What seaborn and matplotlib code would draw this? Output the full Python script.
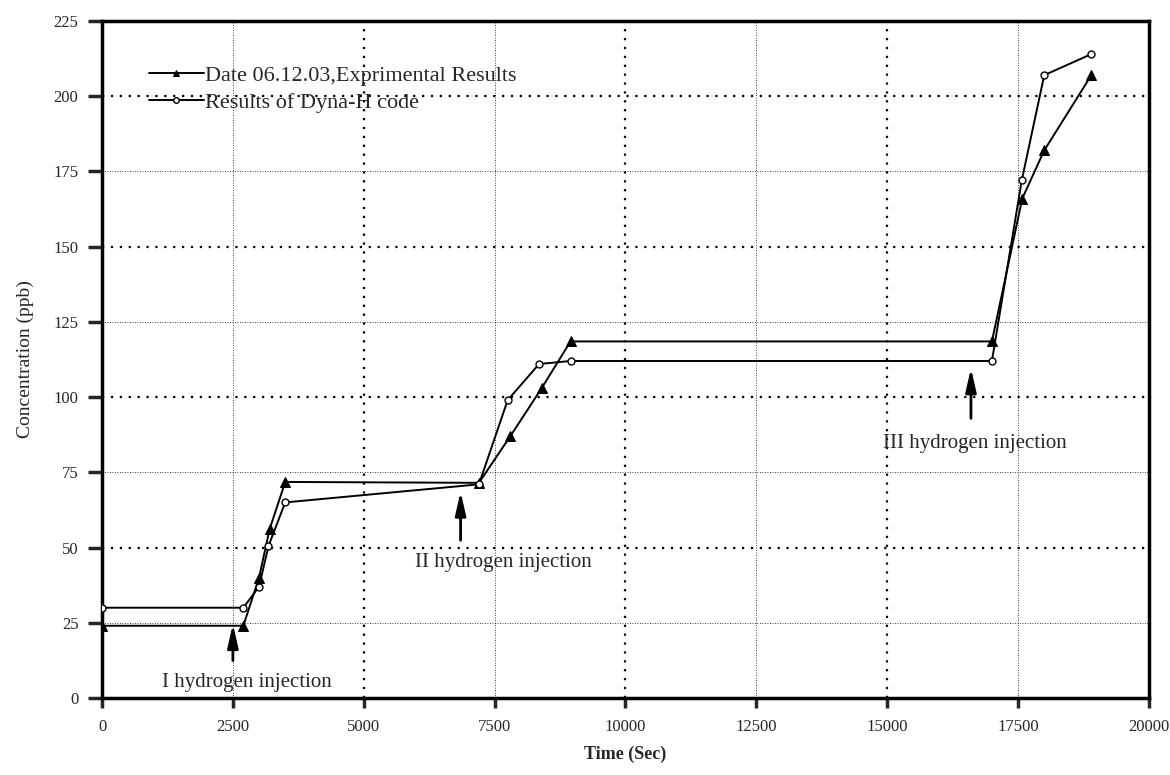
import numpy as np
import pandas as pd
import matplotlib
matplotlib.use("Agg")
import matplotlib.pyplot as plt
import seaborn as sns

# data
exp_time = [0, 2700, 3000, 3200, 3500, 7200, 7800, 8400, 8950, 17000, 17580, 18000, 18900]
exp_conc = [24, 24, 40, 56, 71.8, 71.5, 87, 103, 118.5, 118.5, 166, 182, 207]
sim_time = [0, 2700, 3000, 3180, 3500, 7200, 7750, 8350, 8950, 17000, 17570, 18000, 18900]
sim_conc = [30, 30, 37, 50.5, 65, 71, 99, 111, 112, 112, 172, 207, 214]

exp_label = "Date 06.12.03,Exprimental Results"
sim_label = "Results of Dyna-H code"

# injection notes: text, arrow x, arrow tail y, arrow head y, text x, text y
inj_text = ["I hydrogen injection", "II hydrogen injection", "III hydrogen injection"]
inj_x = [2500, 6850, 16600]
inj_tail = [11.5, 51.5, 92]
inj_head = [25.5, 69.5, 110.5]
inj_tx = [2770, 7660, 16680]
inj_ty = [5, 45, 84.5]

sns.set_style("ticks")
plt.rcParams['font.family'] = ['Liberation Serif', 'DejaVu Serif']

fig = plt.figure(figsize=(11.7, 7.75), dpi=100)
ax = fig.add_axes([0.0872, 0.0994, 0.8948, 0.8735])

# grid: heavier dots on every second line
for xv in np.arange(2500, 20000, 2500):
    heavy = xv % 5000 == 0
    ax.axvline(xv, color="black", ls=(0, (1, 3)) if heavy else (0, (1, 2)),
               lw=1.6 if heavy else 0.6, zorder=0)
for yv in np.arange(25, 225, 25):
    heavy = yv % 50 == 0
    ax.axhline(yv, color="black", ls=(0, (1, 3)) if heavy else (0, (1, 2)),
               lw=1.6 if heavy else 0.6, zorder=0)

d_exp = pd.DataFrame({"t": exp_time, "c": exp_conc})
d_sim = pd.DataFrame({"t": sim_time, "c": sim_conc})
sns.lineplot(data=d_exp, x="t", y="c", ax=ax, color="black", lw=1.4, sort=False,
             estimator=None, marker="^", markersize=7, markerfacecolor="black",
             markeredgecolor="black", label=exp_label, zorder=3)
sns.lineplot(data=d_sim, x="t", y="c", ax=ax, color="black", lw=1.4, sort=False,
             estimator=None, marker="o", markersize=5, markerfacecolor="white",
             markeredgecolor="black", markeredgewidth=1, label=sim_label, zorder=4)

for txt, xa, yt, yh, tx, ty in zip(inj_text, inj_x, inj_tail, inj_head, inj_tx, inj_ty):
    ax.annotate("", xy=(xa, yh), xytext=(xa, yt),
                arrowprops=dict(arrowstyle="-|>,head_length=1.4,head_width=0.32",
                                color="black", lw=2))
    ax.text(tx, ty, txt, ha="center", va="center", fontsize=15)

ax.set_xlim(0, 20000)
ax.set_ylim(0, 225)
ax.set_xticks(np.arange(0, 20001, 2500))
ax.set_yticks(np.arange(0, 226, 25))
ax.tick_params(direction="out", width=2.5, labelsize=12)
ax.tick_params(axis="x", length=7, pad=8)
ax.tick_params(axis="y", length=10, pad=7)
for s in ax.spines.values():
    s.set_linewidth(2.5)
    s.set_color("black")

ax.set_xlabel("Time (Sec)", fontsize=13, fontweight="bold", labelpad=8)
ax.set_ylabel("Concentration (ppb)", fontsize=14, labelpad=14)

leg = ax.legend(loc="upper left", bbox_to_anchor=(0.036, 0.948), frameon=False,
                fontsize=16, handlelength=2.5, handletextpad=0.05, labelspacing=0.3,
                borderaxespad=0)
for h in leg.legend_handles:
    h.set_markersize(4)

fig.savefig("out.png", dpi=100)
